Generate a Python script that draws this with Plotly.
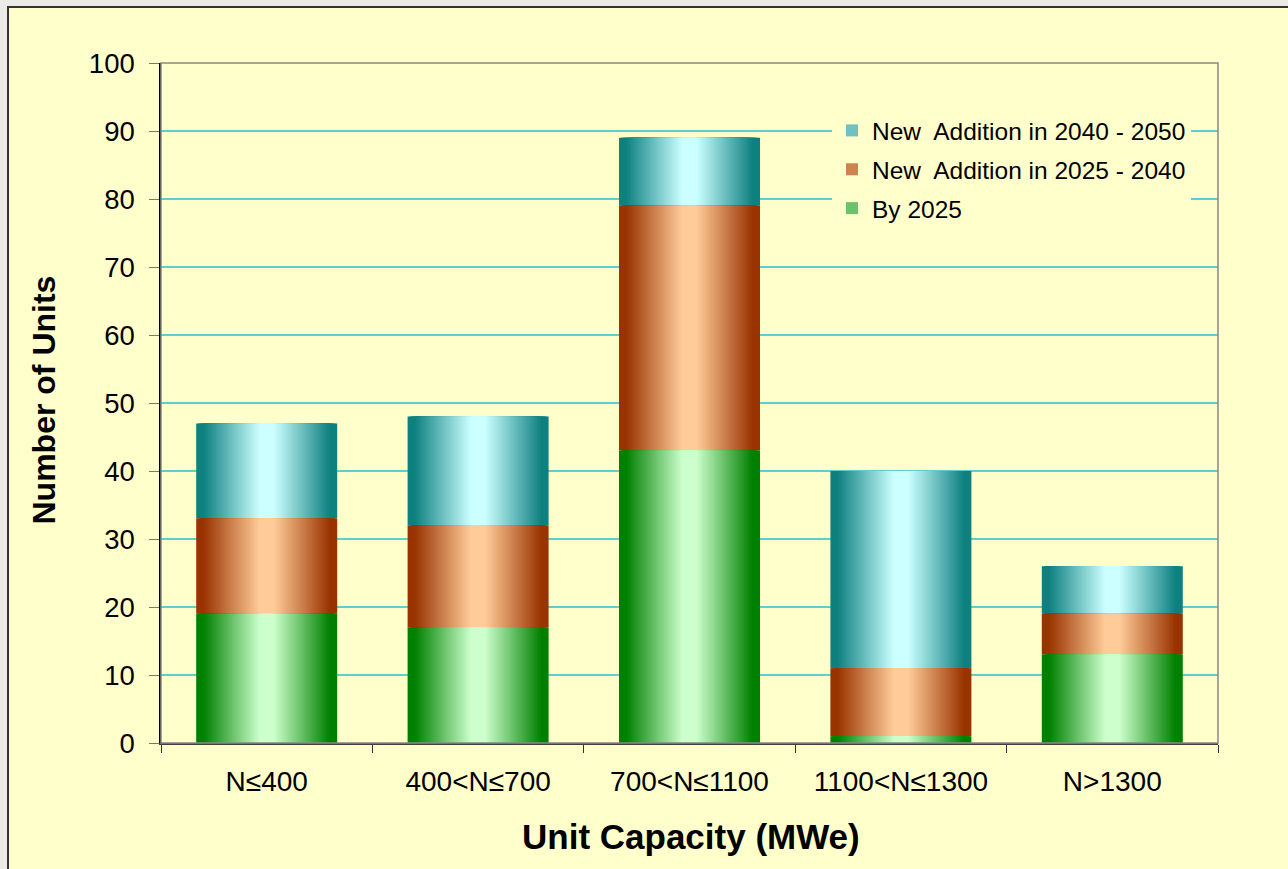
import plotly.graph_objects as go

# ---- data ----
categories = ["N≤400", "400<N≤700", "700<N≤1100", "1100<N≤1300", "N>1300"]
by_2025 = [19, 17, 43, 1, 13]
add_2025_2040 = [14, 15, 36, 10, 6]
add_2040_2050 = [14, 16, 10, 29, 7]
series_names = ["By 2025", "New\u00a0 Addition in 2025 - 2040", "New\u00a0 Addition in 2040 - 2050"]
y_ticks = [0, 10, 20, 30, 40, 50, 60, 70, 80, 90, 100]

# ---- style ----
edge_colors = ["#008000", "#993300", "#0E8080"]
center_colors = ["#CCFFCC", "#FFCC99", "#CCFFFF"]
BAR_W = 0.667
N_STEPS = 36
FONT = "Arial, Liberation Sans, sans-serif"

W, H = 1288, 869
L, R, T, B = 161, W - 1218, 63, H - 743
PW, PH = W - L - R, H - T - B


def hex2rgb(h):
    h = h.lstrip("#")
    return [int(h[i:i + 2], 16) for i in (0, 2, 4)]


def mix(c_edge, c_center, f):
    a, b = hex2rgb(c_edge), hex2rgb(c_center)
    return "rgb(%d,%d,%d)" % tuple(round(b[i] + (a[i] - b[i]) * f) for i in range(3))


fig = go.Figure()
values = [by_2025, add_2025_2040, add_2040_2050]
bases = [[0] * len(categories)]
for v in values[:-1]:
    bases.append([b + x for b, x in zip(bases[-1], v)])

# add top series first so the legend lists it first (series do not overlap)
for s in (2, 1, 0):
    name, vals, base = series_names[s], values[s], bases[s]
    for k in range(N_STEPS):
        t = 1 - (k + 0.5) / N_STEPS  # distance from centre (1 = edge)
        f = max(0.0, min(1.0, (t - 0.1) / 0.8))
        fig.add_trace(go.Bar(
            x=categories, y=vals, base=base,
            width=BAR_W * (1 - k / N_STEPS),
            marker=dict(color=mix(edge_colors[s], center_colors[s], f), line=dict(width=0)),
            name=name, legendgroup=name,
            showlegend=(k == N_STEPS // 2),
            hoverinfo="skip" if k else "x+y+name",
        ))

fig.update_layout(
    width=W, height=H,
    margin=dict(l=L, r=R, t=T, b=B, pad=0),
    barmode="overlay",
    paper_bgcolor="#ECEAE6",
    plot_bgcolor="#FFFFCC",
    font=dict(family=FONT, color="black"),
    showlegend=True,
    legend=dict(
        x=(832 - L) / PW, y=(743 - 108) / PH, xanchor="left", yanchor="top",
        bgcolor="#FFFFCC", borderwidth=0,
        font=dict(family=FONT, size=24.5, color="black"),
        traceorder="grouped", tracegroupgap=4,
    ),
    xaxis=dict(
        type="category", range=[-0.5, 4.5],
        tickson="boundaries", ticks="outside", ticklen=8, tickcolor="#333333",
        showline=True, linecolor="#404040", linewidth=1.5,
        showgrid=False, zeroline=False,
        tickfont=dict(family=FONT, size=28, color="black"),
        ticklabelstandoff=13,
    ),
    yaxis=dict(
        range=[0, 100], tickvals=y_ticks,
        ticks="outside", ticklen=10, tickcolor="#777777",
        showline=True, linecolor="black", linewidth=1.5,
        showgrid=True, gridcolor="#5FD0C8", gridwidth=1.5, zeroline=False,
        tickfont=dict(family=FONT, size=27.5, color="black"),
        ticklabelstandoff=9,
    ),
    shapes=[
        # chart area background with dark border
        dict(type="rect", xref="paper", yref="paper", layer="below",
             x0=(8 - L) / PW, x1=(W + 20 - L) / PW,
             y0=(743 - H - 20) / PH, y1=(743 - 7) / PH,
             fillcolor="#FFFFCC", line=dict(color="#333333", width=2)),
        # plot area frame (top/right grey)
        dict(type="rect", xref="paper", yref="paper", layer="above",
             x0=0, x1=1, y0=0, y1=1,
             line=dict(color="#888888", width=1.5)),
    ],
    annotations=[
        dict(text="Number of Units", xref="paper", yref="paper",
             x=(43.5 - L) / PW, y=(743 - 400) / PH, textangle=-90,
             xanchor="center", yanchor="middle", showarrow=False,
             font=dict(family=FONT, size=32, color="black", weight="bold")),
        dict(text="Unit Capacity (MWe)", xref="paper", yref="paper",
             x=(691 - L) / PW, y=(743 - 836) / PH,
             xanchor="center", yanchor="middle", showarrow=False,
             font=dict(family=FONT, size=35, color="black", weight="bold")),
    ],
)

fig.write_html("out.html")
